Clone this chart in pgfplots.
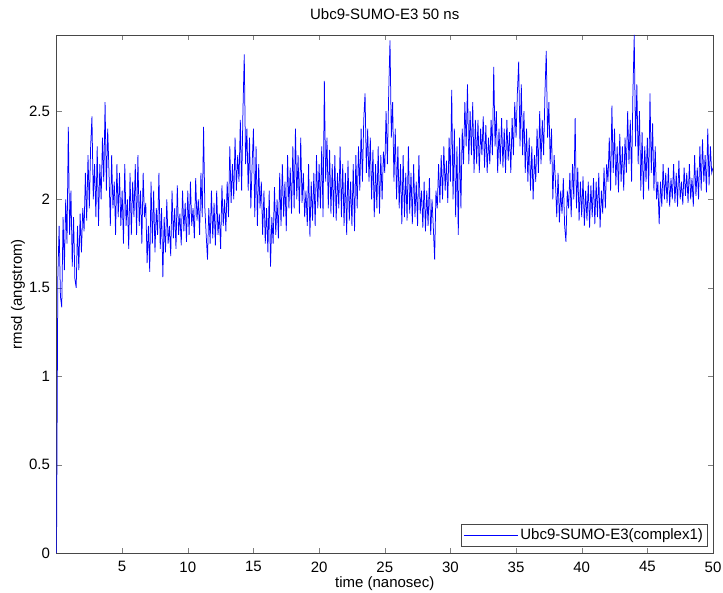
\documentclass[border=0pt]{standalone}
\usepackage{pgfplots}
\pgfplotsset{compat=1.18}
\usepackage{fontspec}
\setmainfont{Liberation Sans}
\definecolor{mblue}{RGB}{0,0,255}
\begin{document}
\begin{tikzpicture}
\begin{axis}[
  scale only axis,
  width=656.5pt, height=518pt,
  xmin=0, xmax=50, ymin=0, ymax=2.93,
  xtick={5,10,...,50},
  ytick={0,0.5,1,1.5,2,2.5},
  yticklabels={0,0.5,1,1.5,2,2.5},
  xticklabels={5,10,15,20,25,30,35,40,45,50},
  tick align=inside,
  major tick length=5pt,
  axis line style={black!72},
  tick style={black!50},
  font=\fontsize{15}{18}\selectfont,
  ticklabel style={font=\fontsize{15}{18}\selectfont},
  xticklabel style={yshift=-5pt},
  yticklabel style={xshift=-3pt},
  title={Ubc9-SUMO-E3 50 ns},
  xlabel={time (nanosec)},
  ylabel={rmsd (angstrom)},
  every axis title/.style={at={(rel axis cs:0.5,1)}, anchor=center, yshift=21pt},
  every axis x label/.style={at={(rel axis cs:0.5,0)}, anchor=center, yshift=-31pt},
  every axis y label/.style={at={(rel axis cs:0,0.5)}, anchor=center, rotate=90, yshift=38.5pt},
  legend cell align=left,
  legend style={at={(rel axis cs:0.991,0.0135)}, anchor=south east, name=mylegend,
    draw=none, fill=white, inner xsep=2pt, inner ysep=2.5pt, font=\fontsize{15}{18}\selectfont},
  legend image code/.code={\path (-5pt,0pt) -- (49pt,0pt); \draw[mblue, line width=0.8pt] (0pt,0pt) -- (47pt,0pt);},
]
\addplot[mblue, line width=0.75pt] coordinates {
(0.0,0.00) (0.1,1.55) (0.2,1.85) (0.3,1.45) (0.4,1.39) (0.5,1.90) (0.6,1.60) (0.7,2.00) (0.8,1.75) (0.9,2.41)
(1.0,1.80) (1.1,2.05) (1.2,1.62) (1.3,1.90) (1.4,1.55) (1.5,1.50) (1.6,1.85) (1.7,1.60) (1.8,1.92) (1.9,1.70)
(2.0,1.95) (2.1,1.82) (2.2,2.15) (2.3,1.88) (2.4,2.25) (2.5,1.95) (2.6,2.30) (2.7,2.47) (2.8,2.00) (2.9,2.20)
(3.0,1.90) (3.1,2.30) (3.2,1.85) (3.3,2.20) (3.4,2.00) (3.5,2.35) (3.6,2.10) (3.7,2.55) (3.8,2.05) (3.9,2.40)
(4.0,2.15) (4.1,1.85) (4.2,2.25) (4.3,1.95) (4.4,2.10) (4.5,1.80) (4.6,2.20) (4.7,1.90) (4.8,2.15) (4.9,1.85)
(5.0,2.05) (5.1,1.75) (5.2,2.20) (5.3,1.85) (5.4,2.00) (5.5,1.72) (5.6,2.15) (5.7,1.80) (5.8,2.10) (5.9,1.90)
(6.0,2.20) (6.1,1.80) (6.2,2.25) (6.3,1.85) (6.4,2.05) (6.5,1.75) (6.6,2.15) (6.7,1.90) (6.8,1.98) (6.9,1.64)
(7.0,1.85) (7.1,1.59) (7.2,2.10) (7.3,1.75) (7.4,2.05) (7.5,1.70) (7.6,1.95) (7.7,1.80) (7.8,2.15) (7.9,1.72)
(8.0,1.95) (8.1,1.56) (8.2,1.90) (8.3,1.70) (8.4,2.00) (8.5,1.75) (8.6,1.85) (8.7,1.68) (8.8,2.05) (8.9,1.78)
(9.0,1.95) (9.1,1.72) (9.2,2.08) (9.3,1.80) (9.4,1.92) (9.5,1.74) (9.6,2.05) (9.7,1.82) (9.8,1.98) (9.9,1.76)
(10.0,2.05) (10.1,1.80) (10.2,2.10) (10.3,1.85) (10.4,1.95) (10.5,1.78) (10.6,2.12) (10.7,1.88) (10.8,2.00) (10.9,1.80)
(11.0,2.15) (11.1,1.90) (11.2,2.41) (11.3,1.95) (11.4,1.80) (11.5,1.66) (11.6,1.95) (11.7,1.75) (11.8,2.05) (11.9,1.78)
(12.0,1.98) (12.1,1.74) (12.2,2.05) (12.3,1.80) (12.4,1.92) (12.5,1.72) (12.6,2.08) (12.7,1.85) (12.8,2.00) (12.9,1.82)
(13.0,2.10) (13.1,1.90) (13.2,2.30) (13.3,1.98) (13.4,2.20) (13.5,2.00) (13.6,2.35) (13.7,2.05) (13.8,2.25) (13.9,2.10)
(14.0,2.45) (14.1,2.05) (14.2,2.50) (14.3,2.82) (14.4,2.20) (14.5,2.40) (14.6,2.05) (14.7,2.35) (14.8,1.95) (14.9,2.20)
(15.0,2.40) (15.1,1.90) (15.2,2.30) (15.3,1.85) (15.4,2.20) (15.5,1.95) (15.6,2.10) (15.7,1.80) (15.8,2.05) (15.9,1.75)
(16.0,1.95) (16.1,1.70) (16.2,2.05) (16.3,1.62) (16.4,1.90) (16.5,1.75) (16.6,2.07) (16.7,1.80) (16.8,2.00) (16.9,1.78)
(17.0,2.15) (17.1,1.85) (17.2,2.20) (17.3,1.90) (17.4,2.10) (17.5,1.82) (17.6,2.25) (17.7,1.95) (17.8,2.18) (17.9,1.92)
(18.0,2.30) (18.1,1.95) (18.2,2.40) (18.3,2.00) (18.4,2.25) (18.5,1.92) (18.6,2.35) (18.7,1.98) (18.8,2.15) (18.9,1.90)
(19.0,2.05) (19.1,1.85) (19.2,2.20) (19.3,1.79) (19.4,2.10) (19.5,1.88) (19.6,2.15) (19.7,1.85) (19.8,2.25) (19.9,1.95)
(20.0,2.20) (20.1,1.95) (20.2,2.30) (20.3,1.90) (20.4,2.67) (20.5,2.10) (20.6,2.35) (20.7,1.95) (20.8,2.28) (20.9,1.92)
(21.0,2.20) (21.1,1.90) (21.2,2.25) (21.3,1.88) (21.4,2.15) (21.5,1.95) (21.6,2.30) (21.7,1.90) (21.8,2.20) (21.9,1.85)
(22.0,2.15) (22.1,1.80) (22.2,2.22) (22.3,1.88) (22.4,2.10) (22.5,1.85) (22.6,2.20) (22.7,1.82) (22.8,2.25) (22.9,1.95)
(23.0,2.30) (23.1,2.05) (23.2,2.40) (23.3,2.10) (23.4,2.45) (23.5,2.60) (23.6,2.15) (23.7,2.40) (23.8,2.10) (23.9,2.35)
(24.0,2.00) (24.1,2.28) (24.2,1.90) (24.3,2.20) (24.4,1.95) (24.5,2.30) (24.6,1.92) (24.7,2.25) (24.8,2.00) (24.9,2.27)
(25.0,2.15) (25.1,2.50) (25.2,2.20) (25.3,2.60) (25.4,2.90) (25.5,2.35) (25.6,2.55) (25.7,2.10) (25.8,2.40) (25.9,2.00)
(26.0,2.30) (26.1,1.95) (26.2,2.20) (26.3,1.86) (26.4,2.25) (26.5,1.90) (26.6,2.15) (26.7,1.88) (26.8,2.30) (26.9,1.92)
(27.0,2.15) (27.1,1.86) (27.2,2.20) (27.3,1.90) (27.4,2.10) (27.5,1.85) (27.6,2.25) (27.7,1.92) (27.8,2.05) (27.9,1.84)
(28.0,2.10) (28.1,1.82) (28.2,2.05) (28.3,1.85) (28.4,2.12) (28.5,1.80) (28.6,2.00) (28.7,1.84) (28.8,1.66) (28.9,2.05)
(29.0,1.95) (29.1,2.20) (29.2,1.98) (29.3,2.25) (29.4,2.00) (29.5,2.30) (29.6,2.05) (29.7,2.22) (29.8,1.98) (29.9,2.35)
(30.0,2.10) (30.1,2.62) (30.2,2.00) (30.3,2.40) (30.4,1.90) (30.5,2.30) (30.6,1.80) (30.7,2.35) (30.8,1.95) (30.9,2.40)
(31.0,2.20) (31.1,2.55) (31.2,2.30) (31.3,2.65) (31.4,2.20) (31.5,2.50) (31.6,2.25) (31.7,2.55) (31.8,2.15) (31.9,2.45)
(32.0,2.20) (32.1,2.45) (32.2,2.15) (32.3,2.40) (32.4,2.25) (32.5,2.47) (32.6,2.18) (32.7,2.42) (32.8,2.15) (32.9,2.35)
(33.0,2.20) (33.1,2.45) (33.2,2.25) (33.3,2.75) (33.4,2.30) (33.5,2.50) (33.6,2.15) (33.7,2.40) (33.8,2.20) (33.9,2.46)
(34.0,2.18) (34.1,2.40) (34.2,2.15) (34.3,2.45) (34.4,2.22) (34.5,2.38) (34.6,2.15) (34.7,2.46) (34.8,2.25) (34.9,2.55)
(35.0,2.35) (35.1,2.60) (35.2,2.78) (35.3,2.30) (35.4,2.65) (35.5,2.25) (35.6,2.50) (35.7,2.15) (35.8,2.40) (35.9,2.10)
(36.0,2.35) (36.1,2.05) (36.2,2.30) (36.3,2.00) (36.4,2.25) (36.5,2.10) (36.6,2.40) (36.7,2.15) (36.8,2.50) (36.9,2.20)
(37.0,2.45) (37.1,2.25) (37.2,2.60) (37.3,2.84) (37.4,2.35) (37.5,2.55) (37.6,2.20) (37.7,2.40) (37.8,2.00) (37.9,2.25)
(38.0,2.10) (38.1,1.90) (38.2,2.15) (38.3,1.87) (38.4,2.05) (38.5,1.92) (38.6,2.12) (38.7,1.85) (38.8,1.76) (38.9,2.05)
(39.0,1.95) (39.1,2.15) (39.2,1.90) (39.3,2.20) (39.4,2.00) (39.5,2.46) (39.6,1.95) (39.7,2.18) (39.8,1.88) (39.9,2.10)
(40.0,1.90) (40.1,2.13) (40.2,1.85) (40.3,2.05) (40.4,1.88) (40.5,2.10) (40.6,1.84) (40.7,2.08) (40.8,1.90) (40.9,2.12)
(41.0,1.86) (41.1,2.10) (41.2,1.90) (41.3,2.15) (41.4,1.84) (41.5,2.05) (41.6,1.92) (41.7,2.18) (41.8,1.95) (41.9,2.20)
(42.0,2.10) (42.1,2.35) (42.2,2.05) (42.3,2.53) (42.4,2.15) (42.5,2.40) (42.6,2.08) (42.7,2.30) (42.8,2.04) (42.9,2.37)
(43.0,2.10) (43.1,2.30) (43.2,2.05) (43.3,2.35) (43.4,2.15) (43.5,2.50) (43.6,2.20) (43.7,2.45) (43.8,2.10) (43.9,2.60)
(44.0,2.93) (44.1,2.30) (44.2,2.65) (44.3,2.20) (44.4,2.50) (44.5,2.05) (44.6,2.38) (44.7,2.00) (44.8,2.30) (44.9,2.10)
(45.0,2.35) (45.1,2.05) (45.2,2.60) (45.3,2.15) (45.4,2.43) (45.5,2.05) (45.6,2.30) (45.7,2.00) (45.8,2.10) (45.9,1.86)
(46.0,2.10) (46.1,1.96) (46.2,2.20) (46.3,2.00) (46.4,2.15) (46.5,1.98) (46.6,2.18) (46.7,1.96) (46.8,2.12) (46.9,2.00)
(47.0,2.20) (47.1,1.98) (47.2,2.15) (47.3,1.96) (47.4,2.22) (47.5,2.00) (47.6,2.10) (47.7,1.97) (47.8,2.18) (47.9,2.02)
(48.0,2.15) (48.1,1.98) (48.2,2.20) (48.3,2.00) (48.4,2.12) (48.5,1.96) (48.6,2.25) (48.7,2.02) (48.8,2.18) (48.9,2.00)
(49.0,2.30) (49.1,2.05) (49.2,2.34) (49.3,2.10) (49.4,2.25) (49.5,2.04) (49.6,2.40) (49.7,2.08) (49.8,2.30) (49.9,2.15)
(50.0,2.18)
};
\addlegendentry{Ubc9-SUMO-E3(complex1)}
\end{axis}
\draw[black!72, line width=0.4pt] (mylegend.south west) rectangle (mylegend.north east);
\pgfresetboundingbox
\path[use as bounding box] ([xshift=-56.5pt,yshift=-39pt]current axis.south west) rectangle ([xshift=10pt,yshift=35pt]current axis.north east);
\end{tikzpicture}
\end{document}
